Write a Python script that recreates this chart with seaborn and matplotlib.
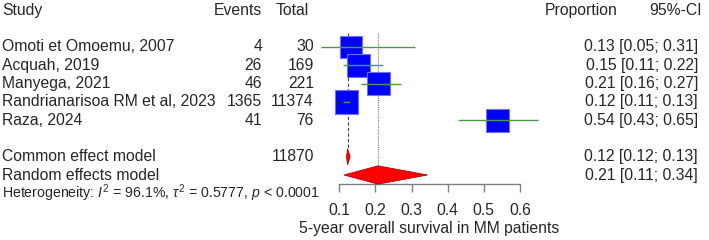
import numpy as np
import pandas as pd
import seaborn as sns
import matplotlib.pyplot as plt
import matplotlib.transforms as mtransforms

sns.set_style("white")
plt.rcParams['font.family'] = ['Liberation Sans', 'DejaVu Sans']
plt.rcParams['mathtext.fontset'] = 'custom'
plt.rcParams['mathtext.rm'] = 'Liberation Sans'
plt.rcParams['mathtext.it'] = 'Liberation Sans:italic'

studies = ["Omoti et Omoemu, 2007", "Acquah, 2019", "Manyega, 2021",
           "Randrianarisoa RM et al, 2023", "Raza, 2024"]
events = [4, 26, 46, 1365, 41]
totals = [30, 169, 221, 11374, 76]
prop = [0.133, 0.154, 0.208, 0.120, 0.539]
lower = [0.05, 0.11, 0.16, 0.11, 0.43]
upper = [0.31, 0.22, 0.27, 0.13, 0.65]
weights = [19.3, 20.1, 20.3, 20.6, 19.7]
ci_labels = ["0.13 [0.05; 0.31]", "0.15 [0.11; 0.22]", "0.21 [0.16; 0.27]",
             "0.12 [0.11; 0.13]", "0.54 [0.43; 0.65]"]

common = {"est": 0.123, "lo": 0.120, "hi": 0.130, "label": "0.12 [0.12; 0.13]", "total": 11870}
random_ = {"est": 0.207, "lo": 0.113, "hi": 0.344, "label": "0.21 [0.11; 0.34]"}
xticks = [0.1, 0.2, 0.3, 0.4, 0.5, 0.6]

df = pd.DataFrame({"study": studies, "prop": prop, "lower": lower,
                   "upper": upper, "weight": weights})
df["row"] = np.arange(2, 2 + len(df))
row_common, row_random, row_het = 8, 9, 10

W, H = 709, 240
fig = plt.figure(figsize=(W / 100, H / 100), dpi=100)
fs = 11.3

# forest axes: 0.1 at x=339px, 0.6 at x=520px; rows 18.3px apart
row0, rowh = 10.3, 18.3
top_px, bot_px = 28, 184
ax = fig.add_axes([339.3 / W, 1 - bot_px / H, 180.6 / W, (bot_px - top_px) / H])
ax.set_xlim(0.1, 0.6)
ax.set_ylim((bot_px - row0) / rowh, (top_px - row0) / rowh)
ax.patch.set_visible(False)
for s in ["top", "right", "left"]:
    ax.spines[s].set_visible(False)
ax.spines["bottom"].set_color("#808080")
ax.spines["bottom"].set_linewidth(1.0)

# reference lines
y_start = 1.24
ax.plot([common["est"]] * 2, [y_start, row_common - 0.45], ls=(0, (3, 2)),
        color="#444444", lw=0.8, clip_on=False, zorder=1)
ax.plot([random_["est"]] * 2, [y_start, row_random - 0.5], ls=(0, (1, 1)),
        color="#777777", lw=0.8, clip_on=False, zorder=1)

# squares
sns.scatterplot(data=df, x="prop", y="row", size="weight", sizes=(262, 290),
                size_norm=(19.3, 20.6), marker="s", color="#0000ff",
                edgecolor="#7070ff", linewidth=0.8, legend=False, ax=ax,
                clip_on=False, zorder=2)
ax.set_ylabel("")
ax.set_xticks(xticks)
ax.set_xticklabels([f"{t:.1f}" for t in xticks])
ax.tick_params(axis="x", direction="out", length=6, width=1.0, color="#808080",
               labelsize=fs, pad=8, bottom=True)
ax.set_yticks([])
ax.set_xlabel("5-year overall survival in MM patients", fontsize=fs, labelpad=2)

# confidence intervals
ax.hlines(df["row"], df["lower"], df["upper"], color="#4a9a4a", lw=1.0,
          clip_on=False, zorder=3)


def diamond(d, row, h):
    xs = [d["lo"], d["est"], d["hi"], d["est"]]
    ys = [row, row - h, row, row + h]
    ax.fill(xs, ys, facecolor="#ff0000", edgecolor="#b00000", lw=0.6,
            clip_on=False, zorder=3)


diamond(common, row_common, 0.44)
diamond(random_, row_random, 0.5)

# text columns
tr = mtransforms.blended_transform_factory(fig.transFigure, ax.transData)


def put(xpx, row, s, ha="left", size=fs):
    ax.text(xpx / W, row, s, transform=tr, ha=ha, va="center", fontsize=size,
            clip_on=False)


put(2, 0, "Study")
put(262, 0, "Events", ha="right")
put(309, 0, "Total", ha="right")
put(545, 0, "Proportion")
put(702, 0, "95%-CI", ha="right")

for r, st, ev, tot, lab in zip(df["row"], studies, events, totals, ci_labels):
    put(2, r, st)
    put(262, r, str(ev), ha="right")
    put(314, r, str(tot), ha="right")
    put(698, r, lab, ha="right")

put(2, row_common, "Common effect model")
put(314, row_common, str(common["total"]), ha="right")
put(698, row_common, common["label"], ha="right")
put(2, row_random, "Random effects model")
put(698, row_random, random_["label"], ha="right")
put(2, row_het, r"Heterogeneity: $I^2$ = 96.1%, $\tau^2$ = 0.5777, $p$ < 0.0001", size=10.2)

fig.savefig("out.png", dpi=100)
